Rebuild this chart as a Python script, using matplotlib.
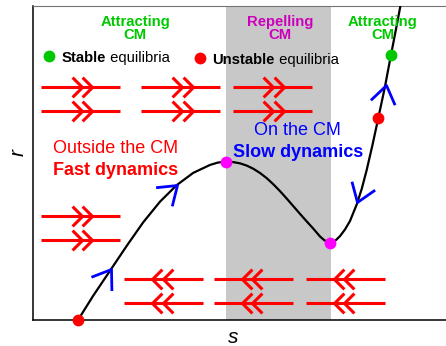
import numpy as np
import matplotlib.pyplot as plt
from matplotlib.path import Path
from matplotlib.markers import MarkerStyle
from matplotlib.transforms import Affine2D

plt.rcParams['font.family'] = 'Liberation Sans'

DPI = 100

# critical manifold r(s), traced point by point
s_cm = [1.090, 1.460, 1.864, 2.269, 2.671, 3.075, 3.479, 3.881, 4.286,
        4.479, 4.673, 4.843, 5.012, 5.174, 5.334, 5.496, 5.659, 5.818,
        5.981, 6.143, 6.303, 6.465, 6.627, 6.787, 6.949, 7.046, 7.119,
        7.191, 7.264, 7.337, 7.433, 7.554, 7.676, 7.838, 7.959, 8.080,
        8.220, 8.361, 8.516, 8.668, 8.814, 8.910]
r_cm = [0.000, 0.591, 1.191, 1.794, 2.368, 2.864, 3.264, 3.562, 3.753,
        3.811, 3.833, 3.823, 3.792, 3.738, 3.661, 3.559, 3.433, 3.286,
        3.119, 2.939, 2.755, 2.569, 2.387, 2.211, 2.022, 1.937, 1.893,
        1.872, 1.889, 1.937, 2.029, 2.191, 2.397, 2.797, 3.172, 3.632,
        4.237, 4.891, 5.617, 6.416, 7.167, 7.676]

# equilibria
stable_s, stable_r = [8.668], [6.416]
unstable_s, unstable_r = [1.090, 8.361], [0.000, 4.891]
fold_s, fold_r = [4.673, 7.191], [3.833, 1.872]

# repelling part of the manifold
repel_lo, repel_hi = 4.67, 7.22

# fast fibres: centre s, r and direction (+1 to the right, -1 to the left)
fast_s = [1.15, 1.15, 3.58, 3.58, 5.79, 5.79, 1.15, 1.15,
          3.17, 3.17, 5.34, 5.34, 7.57, 7.57]
fast_r = [5.63, 5.07, 5.63, 5.07, 5.63, 5.07, 2.52, 1.94,
          1.00, 0.42, 1.00, 0.42, 1.00, 0.42]
fast_dir = [1, 1, 1, 1, 1, 1, 1, 1, -1, -1, -1, -1, -1, -1]

# slow flow on the manifold: arrow tip and sense along the curve
slow_s = [1.89, 3.48, 8.54, 7.85]
slow_r = [1.23, 3.26, 5.70, 2.85]
slow_dir = [1, 1, 1, -1]

GREEN = '#00C800'
MAGENTA = '#FF00FF'


def chevron(angle, half_open, arm_px):
    """Open arrow head pointing along `angle` (deg) with its tip at the point."""
    a = np.deg2rad(half_open)
    verts = [(-np.cos(a), np.sin(a)), (0, 0), (-np.cos(a), -np.sin(a))]
    path = Path(verts, [Path.MOVETO, Path.LINETO, Path.LINETO])
    m = MarkerStyle(path, fillstyle='none',
                    transform=Affine2D().rotate_deg(angle))
    ms = 2 * max(np.cos(a), np.sin(a)) * arm_px * 72 / DPI
    return m, ms


fig = plt.figure(figsize=(4.46, 3.46), dpi=DPI)
ax = fig.add_axes([33 / 446, 26 / 346, 413 / 446, 314 / 346])
ax.set_xlim(0, 10)
ax.set_ylim(0, 7.6)
ax.set_xticks([])
ax.set_yticks([])
ax.spines['right'].set_visible(False)
ax.spines['top'].set_color('0.45')
ax.spines['top'].set_linewidth(0.8)
for side in ('left', 'bottom'):
    ax.spines[side].set_linewidth(1.1)

ax.axvspan(repel_lo, repel_hi, color='#C8C8C8', lw=0, zorder=0)

# fast fibres with double heads
half_len = 0.956
for s, r, d in zip(fast_s, fast_r, fast_dir):
    ax.plot([s - half_len, s + half_len], [r, r], color='red', lw=2.2,
            solid_capstyle='butt', zorder=2)
    m, ms = chevron(0 if d > 0 else 180, 45, 14)
    ax.plot([s + d * 0.03, s + d * 0.29], [r, r], ls='none', marker=m,
            ms=ms, mec='red', mew=2.2, zorder=2)

ax.plot(s_cm, r_cm, color='black', lw=1.6, zorder=3,
        solid_joinstyle='round')

# slow flow arrows follow the local tangent of the manifold
pts = ax.transData.transform(np.column_stack([s_cm, r_cm]))
for s, r, d in zip(slow_s, slow_r, slow_dir):
    tip = ax.transData.transform((s, r))
    i = int(np.argmin(np.hypot(*(pts - tip).T)))
    i = min(max(i, 1), len(pts) - 2)
    dx, dy = pts[i + 1] - pts[i - 1]
    ang = np.degrees(np.arctan2(dy, dx)) + (180 if d < 0 else 0)
    m, ms = chevron(ang, 35, 21.5)
    ax.plot([s], [r], ls='none', marker=m, ms=ms, mec='blue', mew=2.0,
            zorder=4)

ax.plot(fold_s, fold_r, 'o', color=MAGENTA, ms=8.5, mew=0, zorder=5)
ax.plot(unstable_s, unstable_r, 'o', color='red', ms=8.5, mew=0, zorder=5,
        clip_on=False)
ax.plot(stable_s, stable_r, 'o', color=GREEN, ms=8.5, mew=0, zorder=5)

# region labels
kw = dict(ha='center', va='center', fontsize=10.7, fontweight='bold',
          linespacing=0.95, zorder=6)
ax.text(2.47, 7.05, 'Attracting\nCM', color=GREEN, **kw)
ax.text(5.98, 7.05, 'Repelling\nCM', color='#CC00BB', **kw)
ax.text(8.47, 7.05, 'Attracting\nCM', color=GREEN, **kw)

# equilibria key
ax.plot([0.39], [6.39], 'o', color=GREEN, ms=8.5, mew=0)
ax.plot([4.04], [6.33], 'o', color='red', ms=8.5, mew=0)
t1 = ax.text(0.69, 6.35, 'Stable', fontsize=10.7, fontweight='bold',
             va='center', ha='left')
ax.annotate(' equilibria', xy=(1, 0), xycoords=t1, va='bottom', ha='left',
            fontsize=10.7)
t2 = ax.text(4.34, 6.30, 'Unstable', fontsize=10.7, fontweight='bold',
             va='center', ha='left')
ax.annotate(' equilibria', xy=(1, 0), xycoords=t2, va='bottom', ha='left',
            fontsize=10.7)

# time-scale annotations
ax.text(1.99, 4.16, 'Outside the CM', color='red', fontsize=13,
        ha='center', va='center')
ax.text(1.99, 3.62, 'Fast dynamics', color='red', fontsize=13,
        fontweight='bold', ha='center', va='center')
ax.text(6.41, 4.58, 'On the CM', color='blue', fontsize=13,
        ha='center', va='center')
ax.text(6.41, 4.06, 'Slow dynamics', color='blue', fontsize=13,
        fontweight='bold', ha='center', va='center')

ax.set_xlabel('s', fontsize=15, fontstyle='italic', labelpad=6, x=0.484)
ax.set_ylabel('r', fontsize=15, fontstyle='italic', labelpad=4, y=0.535)

fig.savefig('out.png', dpi=DPI)
